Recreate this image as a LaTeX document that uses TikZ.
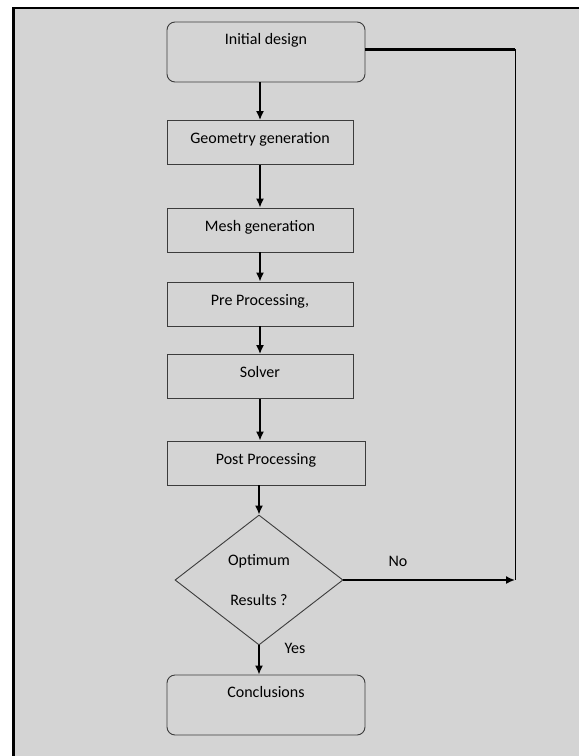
\documentclass[tikz,border=0pt]{standalone}
\usepackage{fontspec}
\setmainfont{Carlito}
\usetikzlibrary{arrows.meta,shapes.geometric,positioning}
\definecolor{pagegray}{RGB}{212,212,212}
\definecolor{boxline}{RGB}{60,60,60}
\tikzset{%
  >={Latex[length=9pt,width=8pt]},
  flowbox/.style={draw=boxline,line width=0.9pt,minimum width=186pt,
    minimum height=44pt,inner sep=0pt,text height=12pt,text depth=10pt},
  widebox/.style={flowbox,minimum width=198pt},
  endbox/.style={widebox,rounded corners=8pt,minimum height=60pt,text depth=28pt},
  decision/.style={diamond,draw=boxline,line width=0.9pt,minimum width=168pt,
    minimum height=130pt,inner sep=0pt,align=center},
  flow/.style={->,line width=1.6pt}
}

\begin{document}
\begin{tikzpicture}[x=1pt,y=-1pt,font=\fontsize{16}{19}\selectfont]
\useasboundingbox (0,0) rectangle (579,756);
\fill[white] (0,0) rectangle (579,756);
\fill[pagegray] (12,8) rectangle (579,756);
\draw[line width=2.6pt] (13.5,756) -- (13.5,8) -- (579,8); %frame

\node[endbox] (init) at (266,52) {Initial design};
\node[flowbox] (geo) at (260,142.5) {Geometry generation};
\node[flowbox] (mesh) at (260,230) {Mesh generation};
\node[flowbox] (pre) at (260,304) {Pre Processing,};
\node[flowbox] (solv) at (260,376.5) {Solver};
\node[widebox] (post) at (266,463) {Post Processing};
\node[decision] (opt) at (259,580) {Optimum\\[21pt]Results ?};
\node[endbox] (concl) at (266,705) {Conclusions};

\draw[flow] (init.south -| geo.north) -- (geo.north);
\draw[flow] (geo) -- (mesh);
\draw[flow] (mesh) -- (pre);
\draw[flow] (pre) -- (solv);
\draw[flow] (solv) -- (post.north -| solv.south);
\draw[flow] (post.south -| opt.north) -- (opt.north);
\draw[flow] (opt.south) -- (concl.north -| opt.south);

% loop back when not optimum
\coordinate (back) at (515,580);
\draw[line width=3pt] ([yshift=3pt]init.east) -- ([yshift=3pt]init.east -| back);
\draw[line width=1pt] ([yshift=3pt]init.east -| back) -- (back);
\draw[flow] (opt.east) -- (back);

\node (no) at (398,561) {No};
\node (yes) at (295,648) {Yes};
\end{tikzpicture}
\end{document}
